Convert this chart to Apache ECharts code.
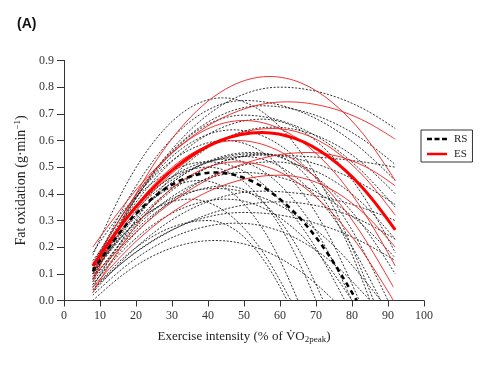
<!DOCTYPE html>
<html><head><meta charset="utf-8">
<script src="https://cdn.jsdelivr.net/npm/echarts@6/dist/echarts.min.js"></script>
<style>html,body{margin:0;padding:0;background:#fff}#c{width:480px;height:373px}</style>
</head><body><div id="c"></div>
<script>
// x-axis ticks and y-axis ticks
const xTicks = [0,10,20,30,40,50,60,70,80,90,100];
const yTicks = [0.0,0.1,0.2,0.3,0.4,0.5,0.6,0.7,0.8,0.9];

// group means, [% of VO2peak, g/min]
const esMean = [[8,.13],[19.8,.349],[31.5,.505],[43.3,.599],[55,.63],[64.3,.607],[73.5,.539],[82.8,.425],[92,.265]];
const rsMean = [[8,.11],[16.5,.272],[25,.388],[33.5,.457],[42,.48],[51.8,.45],[61.7,.36],[71.5,.21],[81.3,0]];

// ES individual curves (red)
const es1 = [[8,.07],[20.3,.407],[32.5,.648],[44.8,.792],[57,.84],[65.8,.816],[74.5,.743],[83.3,.621],[92,.45]];
const es2 = [[8,.2],[21.5,.438],[35,.609],[48.5,.711],[62,.745],[69.5,.736],[77,.71],[84.5,.666],[92,.605]];
const es3 = [[8,.13],[18.5,.368],[29,.539],[39.5,.641],[50,.675],[60.5,.641],[71,.539],[81.5,.368],[92,.13]];
const es4 = [[8,.09],[23,.293],[38,.439],[53,.526],[68,.555],[74,.547],[80,.524],[86,.485],[92,.43]];
const es5 = [[8,.1],[18,.319],[28,.475],[38,.569],[48,.6],[58.9,.566],[69.8,.463],[80.6,.291],[91.5,.05]];
const es6 = [[8,.03],[18,.244],[28,.398],[38,.489],[48,.52],[58.9,.488],[69.8,.39],[80.6,.228],[91.5,0]];
const es7 = [[8,.11],[20.5,.344],[33,.511],[45.5,.612],[58,.645],[66.5,.625],[75,.564],[83.5,.462],[92,.32]];
const es8 = [[8,.05],[21,.234],[34,.365],[47,.444],[60,.47],[68,.453],[76,.403],[84,.318],[92,.2]];

// RS individual curves (black dashed)
const rs1 = [[8,.1],[21,.406],[34,.625],[47,.756],[60,.8],[68,.79],[76,.761],[84,.713],[92,.645]];
const rs2 = [[8,.12],[18.5,.396],[29,.593],[39.5,.711],[50,.75],[60.5,.731],[71,.675],[81.5,.581],[92,.45]];
const rs3 = [[8,.08],[18.5,.349],[29,.541],[39.5,.657],[50,.695],[60.5,.673],[71,.609],[81.5,.501],[92,.35]];
const rs4 = [[8,.17],[17,.428],[26,.613],[35,.723],[44,.76],[54.5,.713],[65,.57],[75.5,.333],[86,0]];
const rs5 = [[8,.13],[19.8,.393],[31.5,.58],[43.3,.693],[55,.73],[64.3,.716],[73.5,.675],[82.8,.606],[92,.51]];
const rs6 = [[8,.05],[20.5,.313],[33,.5],[45.5,.613],[58,.65],[66.5,.634],[75,.588],[83.5,.509],[92,.4]];
const rs7 = [[8,.11],[17.8,.342],[27.5,.508],[37.3,.607],[47,.64],[57.8,.6],[68.5,.48],[79.3,.28],[90,0]];
const rs8 = [[8,.12],[19,.308],[30,.443],[41,.523],[52,.55],[62,.538],[72,.503],[82,.443],[92,.36]];
const rs9 = [[8,.1],[19.8,.295],[31.5,.434],[43.3,.517],[55,.545],[64.3,.542],[73.5,.534],[82.8,.52],[92,.5]];
const rs10 = [[8,.15],[18.5,.321],[29,.443],[39.5,.516],[50,.54],[59.5,.506],[69,.405],[78.5,.236],[88,0]];
const rs11 = [[8,.08],[20,.286],[32,.433],[44,.521],[56,.55],[63.3,.516],[70.5,.413],[77.8,.241],[85,0]];
const rs12 = [[8,.13],[17.3,.305],[26.5,.43],[35.8,.505],[45,.53],[53.8,.497],[62.5,.398],[71.3,.232],[80,0]];
const rs13 = [[8,.06],[20.5,.261],[33,.405],[45.5,.491],[58,.52],[66.5,.502],[75,.448],[83.5,.357],[92,.23]];
const rs14 = [[8,.18],[16,.329],[24,.435],[32,.499],[40,.52],[49.5,.488],[59,.39],[68.5,.228],[78,0]];
const rs15 = [[8,0],[16.5,.098],[25,.169],[33.5,.211],[42,.225],[50.3,.211],[58.5,.169],[66.8,.098],[75,0]];
const rs16 = [[8,.02],[18,.138],[28,.223],[38,.273],[48,.29],[57.3,.272],[66.5,.218],[75.8,.127],[85,0]];
const rs17 = [[8,.04],[18.5,.167],[29,.258],[39.5,.312],[50,.33],[60.5,.319],[71,.285],[81.5,.229],[92,.15]];
const rs18 = [[8,.06],[17.3,.2],[26.5,.3],[35.8,.36],[45,.38],[53.8,.356],[62.5,.285],[71.3,.166],[80,0]];
const rs19 = [[8,.03],[19.8,.196],[31.5,.315],[43.3,.386],[55,.41],[64.3,.403],[73.5,.383],[82.8,.348],[92,.3]];
const rs20 = [[8,.07],[17.3,.228],[26.5,.34],[35.8,.408],[45,.43],[51.8,.403],[58.5,.323],[65.3,.188],[72,0]];
const rs21 = [[8,.09],[15.5,.248],[23,.36],[30.5,.428],[38,.45],[44.8,.422],[51.5,.338],[58.3,.197],[65,0]];
const rs22 = [[8,.1],[14.8,.223],[21.5,.31],[28.3,.363],[35,.38],[42,.356],[49,.285],[56,.166],[63,0]];
const rs23 = [[8,.12],[16,.286],[24,.405],[32,.476],[40,.5],[47.5,.469],[55,.375],[62.5,.219],[70,0]];
const rs24 = [[8,.05],[21,.19],[34,.29],[47,.35],[60,.37],[68,.361],[76,.335],[84,.291],[92,.23]];
const rs25 = [[8,.08],[18.5,.255],[29,.38],[39.5,.455],[50,.48],[60.5,.46],[71,.4],[81.5,.3],[92,.16]];
const rs26 = [[8,.14],[17.3,.341],[26.5,.485],[35.8,.571],[45,.6],[54.3,.563],[63.5,.45],[72.8,.263],[82,0]];
const rs27 = [[8,.11],[16.5,.246],[25,.343],[33.5,.401],[42,.42],[53.5,.394],[65,.315],[76.5,.184],[88,0]];
const rs28 = [[8,.04],[16,.154],[24,.235],[32,.284],[40,.3],[45.5,.281],[51,.225],[56.5,.131],[62,0]];
const rs29 = [[8,.1],[19,.299],[30,.441],[41,.527],[52,.555],[62,.527],[72,.441],[82,.299],[92,.1]];
const rs30 = [[8,.12],[19.8,.365],[31.5,.54],[43.3,.645],[55,.68],[64.3,.649],[73.5,.555],[82.8,.399],[92,.18]];

const rsCurves = [rs1,rs2,rs3,rs4,rs5,rs6,rs7,rs8,rs9,rs10,rs11,rs12,rs13,rs14,rs15,rs16,rs17,rs18,rs19,rs20,rs21,rs22,rs23,rs24,rs25,rs26,rs27,rs28,rs29,rs30];
const esCurves = [es1,es2,es3,es4,es5,es6,es7,es8];

const serif = 'Liberation Serif';
const series = [];
rsCurves.forEach((d,i)=>series.push({
  name:'rs'+i, type:'line', data:d, smooth:0.35, symbol:'none', silent:true,
  lineStyle:{color:'#1a1a1a', width:0.9, type:[2,1.6]}, z:2
}));
esCurves.forEach((d,i)=>series.push({
  name:'es'+i, type:'line', data:d, smooth:0.35, symbol:'none', silent:true,
  lineStyle:{color:'#ee1c1c', width:0.9, type:'solid'}, z:3
}));
series.push({name:'RS', type:'line', data:rsMean, smooth:0.35, symbol:'none',
  lineStyle:{color:'#000', width:2.6, type:[5,4]}, itemStyle:{color:'#000'}, z:4});
series.push({name:'ES', type:'line', data:esMean, smooth:0.35, symbol:'none',
  lineStyle:{color:'#ff0000', width:3, type:'solid'}, itemStyle:{color:'#ff0000'}, z:5});

const chart = echarts.init(document.getElementById('c'), null, {renderer:'canvas'});
chart.setOption({
  animation:false,
  backgroundColor:'#fff',
  title:{text:'(A)', left:12, top:12, textStyle:{fontFamily:'Liberation Sans', fontWeight:'bold', fontSize:14, color:'#111'}},
  grid:{left:64, right:56, top:60.5, bottom:72.5, containLabel:false},
  legend:{
    data:[
      {name:'RS', icon:'path://M0,0h6v3h-6z M9,0h6v3h-6z M18,0h6v3h-6z', itemStyle:{color:'#000'}},
      {name:'ES', icon:'path://M0,0h24v3h-24z', itemStyle:{color:'#ff0000'}}
    ],
    orient:'vertical', left:421, top:130,
    itemWidth:20, itemHeight:3, itemGap:3, padding:[3,5,2,6],
    borderColor:'#333', borderWidth:1, borderRadius:0,
    textStyle:{fontFamily:serif, fontSize:11, lineHeight:12, color:'#222', padding:[0,0,0,2]}
  },
  xAxis:{
    type:'value', min:xTicks[0], max:xTicks[xTicks.length-1], interval:10,
    axisLine:{lineStyle:{color:'#333', width:1}},
    axisTick:{length:6, lineStyle:{color:'#333'}},
    axisLabel:{fontFamily:serif, fontSize:12, color:'#333', margin:9},
    splitLine:{show:false},
    name:'{n|Exercise intensity (% of V\u0307O}{s|2peak}{n|)}', nameLocation:'middle', nameGap:29,
    nameTextStyle:{rich:{n:{fontFamily:serif, fontSize:13, color:'#222'}, s:{fontFamily:serif, fontSize:9, color:'#222', verticalAlign:'bottom', padding:[6,0,0,0]}}}
  },
  yAxis:{
    type:'value', min:yTicks[0], max:yTicks[yTicks.length-1], interval:0.1,
    axisLine:{show:true, lineStyle:{color:'#333', width:1}},
    axisTick:{show:true, length:7, lineStyle:{color:'#333'}},
    axisLabel:{fontFamily:serif, fontSize:12, color:'#333', margin:10, formatter:v=>v.toFixed(1)},
    splitLine:{show:false},
    name:'{n|Fat oxidation (g\u00b7min}{s|\u22121}{n|)}', nameLocation:'middle', nameGap:34, nameRotate:90,
    nameTextStyle:{rich:{n:{fontFamily:serif, fontSize:14, color:'#222'}, s:{fontFamily:serif, fontSize:9, color:'#222', verticalAlign:'top', padding:[0,0,6,0]}}}
  },
  series:series
});
</script></body></html>
